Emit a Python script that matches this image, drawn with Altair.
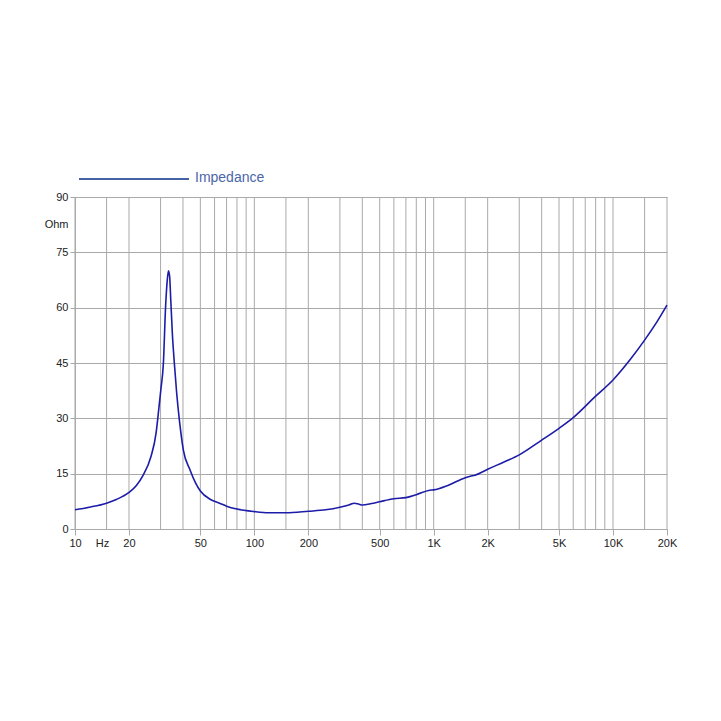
import altair as alt
import pandas as pd

# Impedance curve (Hz, Ohm)
freq = [10, 12, 15, 17, 20, 22, 24, 26.5, 28.3, 29.1, 30.1, 31.1, 32.0, 32.7, 33.2,
        33.7, 34.2, 34.9, 35.8, 36.9, 38.2, 40.2, 43.8, 47, 50, 57, 64, 70, 80, 100,
        120, 150, 200, 250, 300, 340, 360, 380, 400, 450, 500, 600, 700, 800, 950,
        1000, 1200, 1500, 1600, 1700, 2000, 2500, 3000, 4000, 5000, 6000, 8000,
        10000, 12500, 15000, 17500, 20000]
ohm = [5.2, 5.9, 7.0, 8.0, 9.9, 11.8, 14.6, 19.6, 25.9, 31.0, 37.7, 44.9, 60.3, 67.5, 70.0,
       68.5, 62.1, 53.0, 45.0, 36.8, 29.5, 21.4, 16.0, 12.5, 10.3, 8.0, 7.0, 6.2, 5.4, 4.7,
       4.4, 4.4, 4.8, 5.2, 5.9, 6.6, 7.0, 6.8, 6.5, 6.9, 7.4, 8.2, 8.5, 9.3, 10.5,
       10.6, 11.8, 13.9, 14.3, 14.6, 16.2, 18.3, 20.1, 24.1, 27.3, 30.2, 36.0,
       40.4, 46.0, 51.2, 56.0, 60.7]

grid_freqs = [10, 15, 20, 30, 40, 50, 60, 70, 80, 90, 100, 150, 200, 300, 400, 500,
              600, 700, 800, 900, 1000, 1500, 2000, 3000, 4000, 5000, 6000, 7000,
              8000, 9000, 10000, 15000, 20000]
x_tick_values = [10, 14.15, 20, 50, 100, 200, 500, 1000, 2000, 5000, 10000, 20000]
x_tick_labels = ["10", "Hz", "20", "50", "100", "200", "500", "1K", "2K", "5K", "10K", "20K"]
y_tick_values = [0, 15, 30, 45, 60, 75, 90]
series_name = ["Impedance"]

curve_df = pd.DataFrame({"f": freq, "z": ohm})
grid_df = pd.DataFrame({"f": grid_freqs})
legend_df = pd.DataFrame({"name": series_name})

label_map = "{" + ",".join(f"'{v}':'{t}'" for v, t in zip(x_tick_values, x_tick_labels)) + "}"

GRID = "#a9a9a9"
FONT = "Liberation Sans"

xscale = alt.Scale(type="log", domain=[10, 20000], nice=False)
yscale = alt.Scale(domain=[0, 90], nice=False)

xaxis = alt.Axis(
    values=x_tick_values,
    labelExpr=f"{label_map}[''+datum.value]",
    grid=False, title=None, tickSize=6, labelPadding=2,
    tickColor=GRID, domainColor=GRID, labelFontSize=11, labelColor="#222",
    labelFont=FONT, labelFlush=False, labelOverlap=False,
    tickOpacity={"condition": {"test": "datum.value > 14 && datum.value < 14.5", "value": 0}, "value": 1},
)
yaxis = alt.Axis(
    values=y_tick_values, grid=True, gridColor=GRID, tickSize=5, labelPadding=2,
    tickColor=GRID, domainColor=GRID, labelFontSize=11, labelColor="#222", labelFont=FONT,
    title="Ohm", titleAngle=0, titleAlign="right", titleBaseline="middle",
    titleX=-7, titleY=27, titleFontWeight="normal", titleFontSize=11, titleFont=FONT,
    titleColor="#222",
)

grid = alt.Chart(grid_df).mark_rule(color=GRID, strokeWidth=1).encode(
    x=alt.X("f:Q", scale=xscale, axis=xaxis),
)

curve = alt.Chart(curve_df).mark_line(color="#1c1ca8", strokeWidth=1.6, interpolate="monotone").encode(
    x=alt.X("f:Q", scale=xscale, axis=xaxis),
    y=alt.Y("z:Q", scale=yscale, axis=yaxis),
)

legend_line = alt.Chart(legend_df).mark_rule(color="#4562a5", strokeWidth=2).encode(
    x=alt.value(4), x2=alt.value(114), y=alt.value(-18),
)
legend_text = alt.Chart(legend_df).mark_text(
    align="left", baseline="middle", fontSize=14, color="#4a66a8", font=FONT
).encode(
    x=alt.value(120), y=alt.value(-19), text="name:N",
)

chart = alt.layer(grid, curve, legend_line, legend_text).properties(
    width=592, height=332,
    autosize=alt.AutoSizeParams(type="none"),
    padding={"left": 75, "top": 197, "right": 54, "bottom": 192},
    background="white",
).configure_view(strokeWidth=0)

chart.save("out.html", embed_options={"renderer": "svg", "actions": False})
